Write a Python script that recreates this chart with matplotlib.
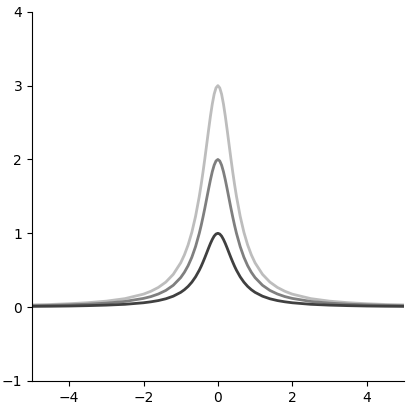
import numpy as np
import matplotlib
matplotlib.use('Agg')
import matplotlib.pyplot as plt

# valores (metade direita, curvas simetricas)
x_half = [0, 0.05, 0.1, 0.15, 0.2, 0.25, 0.3, 0.35, 0.4, 0.45, 0.5, 0.6, 0.7, 0.8, 0.9,
          1.0, 1.2, 1.4, 1.6, 1.8, 2.0, 2.5, 3.0, 3.5, 4.0, 4.5, 5.0]
dark_half = [1.000, 0.990, 0.962, 0.917, 0.862, 0.800, 0.735, 0.671, 0.610, 0.552, 0.500,
             0.410, 0.338, 0.281, 0.236, 0.200, 0.148, 0.113, 0.089, 0.072, 0.059, 0.038,
             0.027, 0.020, 0.015, 0.012, 0.010]
mid_half = [2.000, 1.980, 1.923, 1.835, 1.724, 1.600, 1.471, 1.342, 1.220, 1.105, 1.000,
            0.820, 0.676, 0.562, 0.472, 0.400, 0.296, 0.226, 0.178, 0.143, 0.118, 0.077,
            0.054, 0.040, 0.031, 0.024, 0.020]
light_half = [3.000, 2.970, 2.885, 2.752, 2.586, 2.400, 2.206, 2.013, 1.829, 1.657, 1.500,
              1.230, 1.014, 0.843, 0.708, 0.600, 0.444, 0.339, 0.267, 0.215, 0.176, 0.115,
              0.081, 0.060, 0.046, 0.036, 0.030]

x_ticks = [-4, -2, 0, 2, 4]
y_ticks = [-1, 0, 1, 2, 3, 4]


def mirror(v, neg=False):
    v = np.array(v)
    left = -v[:0:-1] if neg else v[:0:-1]
    return np.concatenate([left, v])


x = mirror(x_half, neg=True)

fig = plt.figure(figsize=(4.15, 4.07), dpi=100)
ax = fig.add_axes([0.077, 0.064, 0.896, 0.907])

ax.plot(x, mirror(light_half), color='#bdbdbd', lw=2)
ax.plot(x, mirror(mid_half), color='#7f7f7f', lw=2)
ax.plot(x, mirror(dark_half), color='#404040', lw=2)

ax.set_xlim(-5, 5)
ax.set_ylim(-1, 4)
ax.set_xticks(x_ticks)
ax.set_yticks(y_ticks)
ax.spines['top'].set_visible(False)
ax.spines['right'].set_visible(False)

plt.savefig('out.png', dpi=100)
